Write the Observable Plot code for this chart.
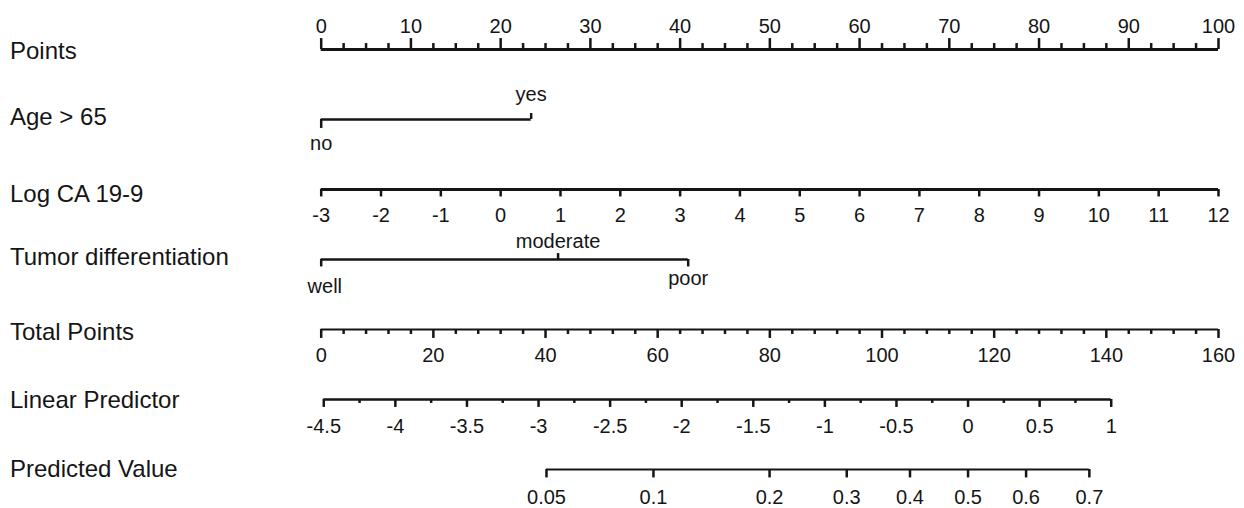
<!DOCTYPE html>
<html><head><meta charset="utf-8">
<script src="https://cdn.jsdelivr.net/npm/d3@7"></script>
<script src="https://cdn.jsdelivr.net/npm/@observablehq/plot@0.6"></script>
<style>
html,body{margin:0;padding:0;background:#fff;}
#chart svg{display:block;}
</style></head><body><div id="chart"></div>
<script>
// ---------- data ----------
const rows = ["Points", "Age > 65", "Log CA 19-9", "Tumor differentiation", "Total Points", "Linear Predictor", "Predicted Value"];

const pointsLabels = [0, 10, 20, 30, 40, 50, 60, 70, 80, 90, 100];
const pointsMinorStep = 2.5;

const ageLevels = ["no", "yes"];
const agePoints = [0, 23.4];

const caLabels = [-3, -2, -1, 0, 1, 2, 3, 4, 5, 6, 7, 8, 9, 10, 11, 12];
const caRange = [-3, 12];
const caPoints = [0, 100];

const tumorLevels = ["well", "moderate", "poor"];
const tumorPoints = [0, 26.4, 40.9];

const totalLabels = [0, 20, 40, 60, 80, 100, 120, 140, 160];
const totalMinorStep = 4;
const totalRange = [0, 160];

const lpLabels = [-4.5, -4, -3.5, -3, -2.5, -2, -1.5, -1, -0.5, 0, 0.5, 1];
const lpMinorStep = 0.25;
const lpRange = [-4.5, 1];
const lpTotalAnchors = [0.46, 140.87]; // total points where LP = -4.5 and LP = 1

const pvLabels = [0.05, 0.1, 0.2, 0.3, 0.4, 0.5, 0.6, 0.7];

// ---------- conversions to the points scale ----------
const lin = (v, d0, d1, r0, r1) => r0 + (v - d0) * (r1 - r0) / (d1 - d0);
const toPts = {
  ca: v => lin(v, caRange[0], caRange[1], caPoints[0], caPoints[1]),
  total: t => lin(t, totalRange[0], totalRange[1], 0, 100),
  lp: v => toPts.total(lin(v, lpRange[0], lpRange[1], lpTotalAnchors[0], lpTotalAnchors[1])),
  pv: p => toPts.lp(Math.log(p / (1 - p)))
};

// ---------- layout (pixel offsets from each row's axis line) ----------
const titleBaseline = {"Points": 9.6, "Age > 65": 6, "Log CA 19-9": 13, "Tumor differentiation": 6, "Total Points": 10.5, "Linear Predictor": 8.6, "Predicted Value": 7.6};
const lineWidth = {"Points": 3, "Age > 65": 2.5, "Log CA 19-9": 3, "Tumor differentiation": 2.5, "Total Points": 2, "Linear Predictor": 2.5, "Predicted Value": 2};

const lines = [], ticks = [], labels = [];
const isMult = (v, s) => Math.abs(v / s - Math.round(v / s)) < 1e-9;

// Points
lines.push({row: rows[0], x1: 0, x2: 100});
d3.range(0, 100 + 1e-9, pointsMinorStep).forEach(v => ticks.push({row: rows[0], x: v, len: isMult(v, 10) ? -11 : -6}));
pointsLabels.forEach(v => labels.push({row: rows[0], x: v, y: -17, text: String(v)}));

// Age
lines.push({row: rows[1], x1: agePoints[0], x2: agePoints[1]});
ageLevels.forEach((lv, i) => {
  const up = i % 2 === 1;
  ticks.push({row: rows[1], x: agePoints[i], len: up ? -6 : 9});
  labels.push({row: rows[1], x: agePoints[i], y: up ? -19 : 31, text: lv});
});

// Log CA 19-9
lines.push({row: rows[2], x1: toPts.ca(caRange[0]), x2: toPts.ca(caRange[1])});
caLabels.forEach(v => {
  ticks.push({row: rows[2], x: toPts.ca(v), len: 7.5});
  labels.push({row: rows[2], x: toPts.ca(v), y: 33, text: String(v)});
});

// Tumor differentiation
lines.push({row: rows[3], x1: tumorPoints[0], x2: tumorPoints[tumorPoints.length - 1]});
const tumorLabelY = {well: 34, moderate: -12, poor: 26};
tumorLevels.forEach((lv, i) => {
  const up = i % 2 === 1;
  ticks.push({row: rows[3], x: tumorPoints[i], len: up ? -6 : 7.5});
  labels.push({row: rows[3], x: tumorPoints[i] + (lv === "well" ? 0.4 : 0), y: tumorLabelY[lv], text: lv});
});

// Total Points
lines.push({row: rows[4], x1: toPts.total(totalRange[0]), x2: toPts.total(totalRange[1])});
d3.range(totalRange[0], totalRange[1] + 1e-9, totalMinorStep).forEach(v => ticks.push({row: rows[4], x: toPts.total(v), len: isMult(v, 20) ? 9 : 5}));
totalLabels.forEach(v => labels.push({row: rows[4], x: toPts.total(v), y: 33, text: String(v)}));

// Linear Predictor
lines.push({row: rows[5], x1: toPts.lp(lpRange[0]), x2: toPts.lp(lpRange[1])});
d3.range(lpRange[0], lpRange[1] + 1e-9, lpMinorStep).forEach(v => ticks.push({row: rows[5], x: toPts.lp(v), len: isMult(v, 0.5) ? 8 : 4}));
lpLabels.forEach(v => labels.push({row: rows[5], x: toPts.lp(v), y: 33.5, text: String(v)}));

// Predicted Value
lines.push({row: rows[6], x1: toPts.pv(pvLabels[0]), x2: toPts.pv(pvLabels[pvLabels.length - 1])});
pvLabels.forEach(v => {
  ticks.push({row: rows[6], x: toPts.pv(v), len: 8.5});
  labels.push({row: rows[6], x: toPts.pv(v), y: 34.5, text: String(v)});
});

const ink = "#151515";
const half = 35.25;

const chart = Plot.plot({
  width: 1244,
  height: 508,
  marginLeft: 320.7,
  marginRight: 26,
  marginTop: 12.45,
  marginBottom: 2.05,
  style: {fontFamily: "'Liberation Sans', Arial, Helvetica, sans-serif", background: "#fff", color: ink},
  x: {domain: [0, 100], range: [320.7, 1218], axis: null},
  y: {domain: [half, -half], axis: null},
  fy: {domain: rows, padding: 0, axis: null},
  marks: [
    Plot.ruleY(lines, {fy: "row", y: 0, x1: "x1", x2: "x2", stroke: ink, strokeWidth: d => lineWidth[d.row], strokeLinecap: "butt"}),
    Plot.ruleX(ticks, {fy: "row", x: "x", y1: 0, y2: "len", stroke: ink, strokeWidth: 2.5}),
    Plot.text(labels, {fy: "row", x: "x", y: "y", text: "text", lineAnchor: "bottom", fontSize: 20, fill: ink}),
    Plot.text(rows, {fy: d => d, y: d => titleBaseline[d], text: d => d, frameAnchor: "left", textAnchor: "start", lineAnchor: "bottom", dx: -311.2, fontSize: 24, fill: ink})
  ]
});
document.getElementById("chart").appendChild(chart);
</script></body></html>
